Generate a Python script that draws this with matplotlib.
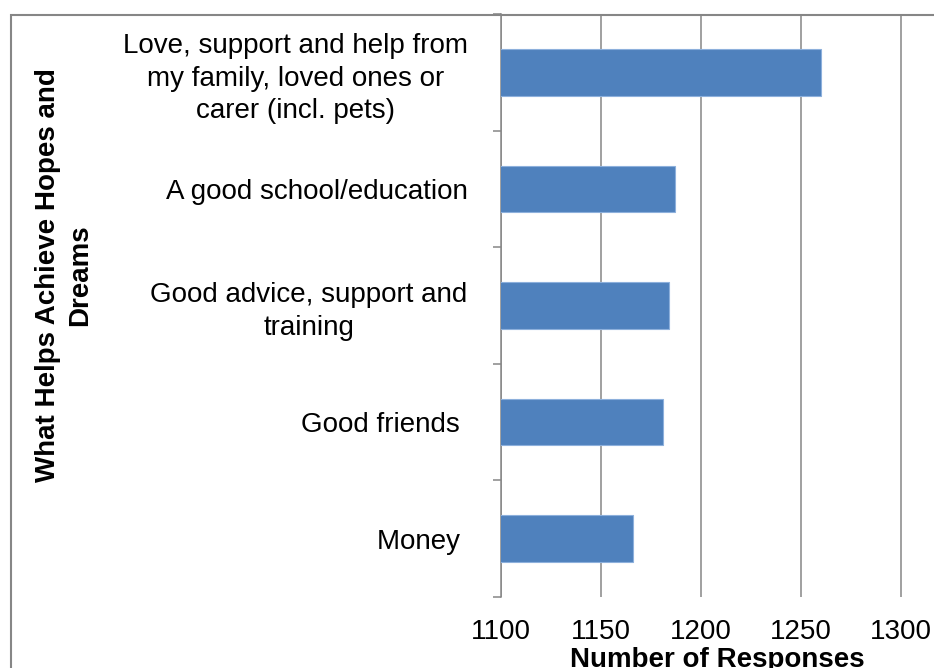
import matplotlib.pyplot as plt
from matplotlib.patches import Rectangle

plt.rcParams['font.family'] = ['Liberation Sans', 'DejaVu Sans']

# survey answers, bottom to top
categories = [
    "Money ",
    "Good friends ",
    "Good advice, support and\ntraining",
    "A good school/education",
    "Love, support and help from\nmy family, loved ones or\ncarer (incl. pets)",
]
responses = [1166, 1181, 1184, 1187, 1260]
x_ticks = [1100, 1150, 1200, 1250, 1300]

grey = "#868686"
bar_colour = "#4F81BD"

W, H = 934, 668
fig = plt.figure(figsize=(W / 100, H / 100), dpi=100)
ax = fig.add_axes([501 / W, (H - 597) / H, (W - 501) / W, (597 - 14) / H])

ypos = list(range(len(categories)))
ax.barh(ypos, responses, left=0, height=0.4, color=bar_colour,
        edgecolor="#8DB0DC", linewidth=0.8, zorder=3)

ax.set_xlim(1100, 1316.5)
ax.set_ylim(-0.5, len(categories) - 0.5)
ax.set_xticks(x_ticks)
ax.set_xticklabels([str(t) for t in x_ticks])
ax.set_yticks(ypos)
ax.set_yticklabels(categories, multialignment="center", linespacing=1.32)
ax.set_yticks([i - 0.5 for i in range(len(categories) + 1)], minor=True)

ax.tick_params(axis="x", length=0, pad=16, labelsize=20)
ax.tick_params(axis="y", which="major", length=0, pad=24, labelsize=20)
ax.tick_params(axis="y", which="minor", length=5.8, width=1.1, color=grey)

ax.xaxis.grid(True, color=grey, linewidth=1.1, zorder=0)
ax.set_axisbelow(True)
for side in ["top", "right", "bottom"]:
    ax.spines[side].set_visible(False)
ax.spines["left"].set_color(grey)
ax.spines["left"].set_linewidth(1.1)

ax.set_xlabel("Number of Responses", fontsize=20, fontweight="bold", labelpad=1)

fig.text(64 / W, (H - 275) / H, "What Helps Achieve Hopes and\nDreams",
         rotation=90, ha="center", va="center", multialignment="center",
         fontsize=20, fontweight="bold", linespacing=1.3)

# outer chart frame
fig.patches.append(Rectangle((11 / W, -0.5), 1.5, 1.5 - 15 / H,
                             transform=fig.transFigure, fill=False,
                             edgecolor=grey, linewidth=1.5))

fig.savefig("out.png", dpi=100)
